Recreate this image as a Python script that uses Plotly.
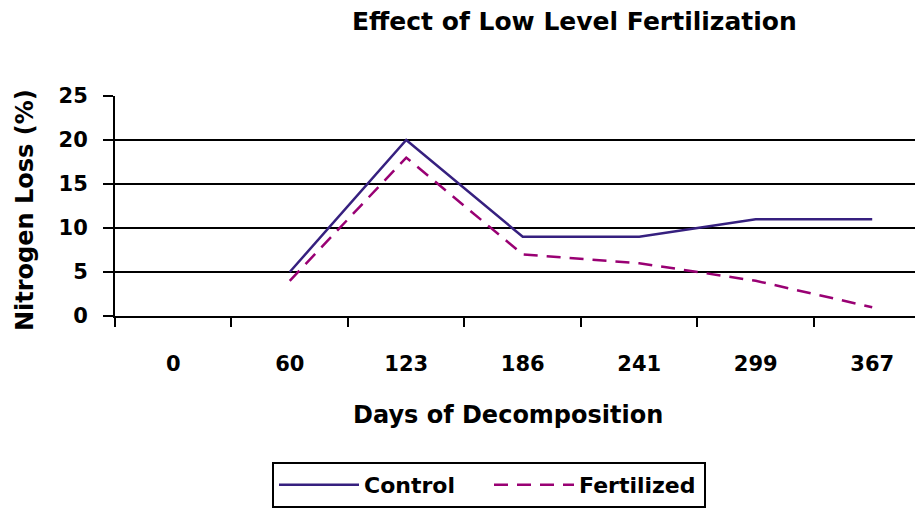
import plotly.graph_objects as go

days = ["0", "60", "123", "186", "241", "299", "367"]
control = [None, 5, 20, 9, 9, 11, 11]
fertilized = [None, 4, 18, 7, 6, 4, 1]

FONT = "DejaVu Sans, Liberation Sans, Arial, sans-serif"

fig = go.Figure()
fig.add_trace(go.Scatter(x=days, y=control, name="Control", mode="lines",
                         line=dict(color="#36207F", width=2.5)))
fig.add_trace(go.Scatter(x=days, y=fertilized, name="Fertilized", mode="lines",
                         line=dict(color="#990073", width=2.5, dash="14px,9px")))

# plot area in screen pixels: x 115 -> right edge, y 96 (25) -> 316 (0); page has 8px body margin
def px(x):
    return (x - 115) / 808

def py(y):
    return (316 - y) / 220

fig.update_layout(
    width=915, height=502,
    margin=dict(l=107, r=0, t=88, b=194),
    paper_bgcolor="white", plot_bgcolor="white",
    font=dict(family=FONT, size=21, color="black", weight="bold"),
    showlegend=True,
    legend=dict(orientation="h", x=px(272), xanchor="left", y=py(462), yanchor="top",
                bordercolor="black", borderwidth=2,
                font=dict(family=FONT, size=22, color="black", weight="bold"),
                itemwidth=80, entrywidth=120, entrywidthmode="pixels"),
    xaxis=dict(type="category", categoryorder="array", categoryarray=days,
               range=[-0.5, 6.436], showline=True, linecolor="black", linewidth=2,
               ticks="outside", tickson="boundaries", ticklen=9, tickwidth=2, tickcolor="black",
               showgrid=False, tickfont=dict(size=21, weight="bold"),
               ticklabelstandoff=28),
    yaxis=dict(range=[0, 25], tickvals=[0, 5, 10, 15, 20, 25],
               showline=True, linecolor="black", linewidth=2,
               ticks="outside", ticklen=10, tickwidth=2, tickcolor="black",
               showgrid=True, gridcolor="black", gridwidth=2, zeroline=False,
               tickfont=dict(size=21, weight="bold"), ticklabelstandoff=11),
    annotations=[
        dict(text="Effect of Low Level Fertilization", xref="paper", yref="paper",
             x=px(574), y=py(22), xanchor="center", yanchor="middle",
             showarrow=False, font=dict(size=25, weight="bold")),
        dict(text="Days of Decomposition", xref="paper", yref="paper",
             x=px(508), y=py(415), xanchor="center", yanchor="middle",
             showarrow=False, font=dict(size=24, weight="bold")),
        dict(text="Nitrogen Loss (%)", xref="paper", yref="paper",
             x=px(25), y=py(210), xanchor="center", yanchor="middle",
             textangle=-90, showarrow=False, font=dict(size=24, weight="bold")),
    ],
)

fig.write_html("out.html")
